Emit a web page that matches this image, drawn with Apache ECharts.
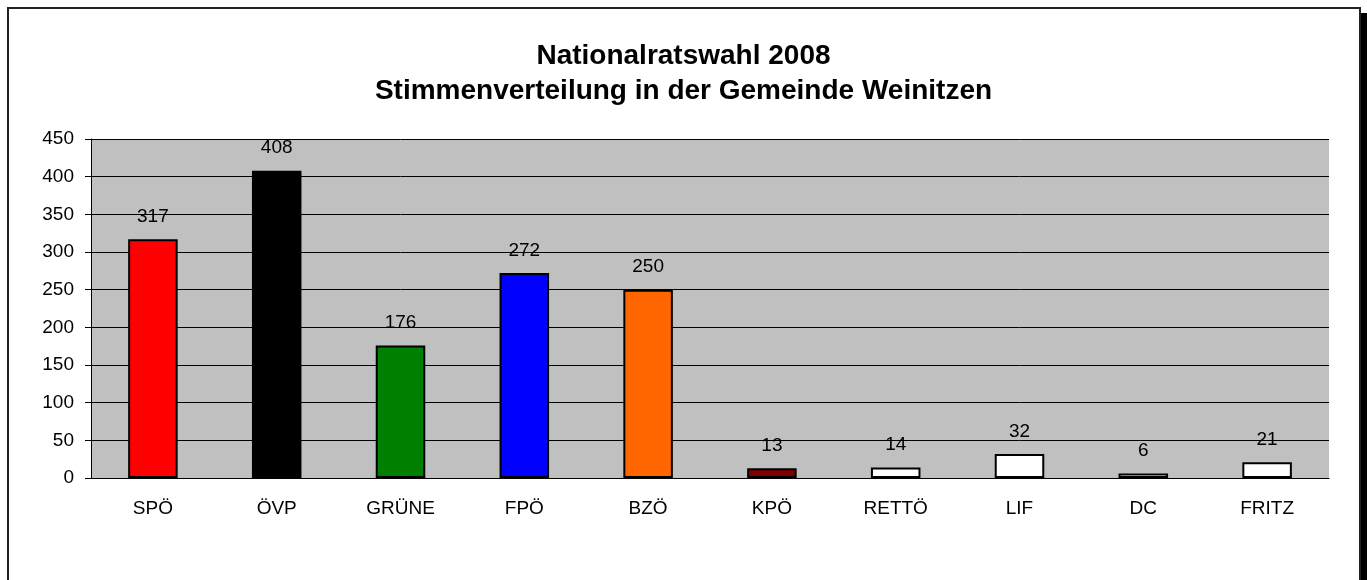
<!DOCTYPE html>
<html lang="de">
<head>
    <meta charset="UTF-8">
    <title>Nationalratswahl 2008</title>
    <script src="https://cdn.jsdelivr.net/npm/echarts@6/dist/echarts.min.js"></script>
    <style>
        html, body {
            margin: 0;
            padding: 0;
            background: #fff;
        }
        #frame {
            position: absolute;
            left: 7px;
            top: 7px;
            width: 1350px;
            height: 620px;
            border: 2px solid #222;
            box-shadow: 7px 6px 0 #000;
            pointer-events: none;
        }
        #chart {
            position: absolute;
            left: 0;
            top: 0;
            width: 1367px;
            height: 580px;
        }
    </style>
</head>
<body>
    <div id="frame"></div>
    <div id="chart"></div>
    <script>
        // Parteien und Stimmen
        const parties = ['SPÖ', 'ÖVP', 'GRÜNE', 'FPÖ', 'BZÖ', 'KPÖ', 'RETTÖ', 'LIF', 'DC', 'FRITZ'];
        const votes = [317, 408, 176, 272, 250, 13, 14, 32, 6, 21];
        const barColors = ['#ff0000', '#000000', '#008000', '#0000ff', '#ff6600', '#800000',
            '#ffffff', '#ffffff', '#ffffff', '#ffffff'];
        const yTicks = [0, 50, 100, 150, 200, 250, 300, 350, 400, 450];

        const font = '"Liberation Sans", Arial, sans-serif';
        const myChart = echarts.init(document.getElementById('chart'));

        const option = {
            animation: false,
            title: {
                text: 'Nationalratswahl 2008\nStimmenverteilung in der Gemeinde Weinitzen',
                left: 'center',
                top: 34,
                textStyle: {
                    fontFamily: font,
                    fontSize: 28,
                    fontWeight: 'bold',
                    color: '#000',
                    lineHeight: 35
                }
            },
            grid: {
                left: 91,
                right: 38,
                top: 139,
                bottom: 102,
                show: true,
                backgroundColor: '#c0c0c0',
                borderWidth: 0
            },
            xAxis: {
                type: 'category',
                data: parties,
                axisLine: { lineStyle: { color: '#000', width: 1 } },
                axisTick: { length: 6, lineStyle: { color: '#555' } },
                axisLabel: {
                    margin: 21,
                    fontFamily: font,
                    fontSize: 19,
                    color: '#000'
                }
            },
            yAxis: {
                type: 'value',
                min: yTicks[0],
                max: yTicks[yTicks.length - 1],
                interval: 50,
                axisLine: { show: true, lineStyle: { color: '#000', width: 1 } },
                axisTick: { show: true, length: 6, lineStyle: { color: '#000' } },
                splitLine: { lineStyle: { color: '#000', width: 1 } },
                axisLabel: {
                    margin: 17,
                    fontFamily: font,
                    fontSize: 19,
                    color: '#000'
                }
            },
            series: [{
                type: 'bar',
                barWidth: '40%',
                data: votes.map((v, i) => ({
                    value: v,
                    itemStyle: { color: barColors[i] }
                })),
                itemStyle: { borderColor: '#000', borderWidth: 2 },
                label: {
                    show: true,
                    position: 'top',
                    distance: 13,
                    fontFamily: font,
                    fontSize: 19,
                    color: '#000'
                }
            }]
        };

        myChart.setOption(option);
    </script>
</body>
</html>
